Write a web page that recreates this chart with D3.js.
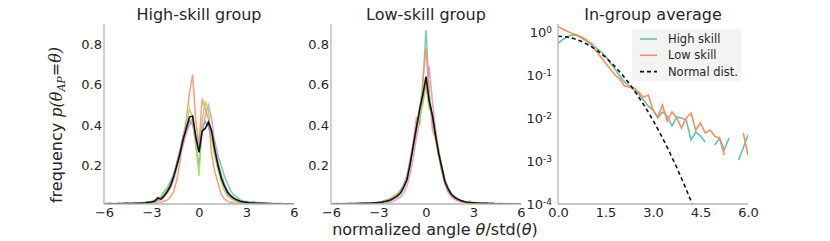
<!DOCTYPE html>
<html>
<head>
<meta charset="utf-8">
<script src="https://cdn.jsdelivr.net/npm/d3@7"></script>
<style>
  body { margin: 0; background: #fff; }
  text { font-family: "DejaVu Sans", sans-serif; fill: #262626; }
</style>
</head>
<body>
<svg id="chart" width="830" height="241"></svg>
<script>
// bin centres of the histograms (normalized angle)
const binCenters = [-6.0,-5.8,-5.6,-5.4,-5.2,-5.0,-4.8,-4.6,-4.4,-4.2,-4.0,-3.8,-3.6,-3.4,-3.2,
  -3.0,-2.8,-2.6,-2.4,-2.2,-2.0,-1.8,-1.6,-1.4,-1.2,-1.0,-0.8,-0.6,-0.4,-0.2,
  0.0,0.2,0.4,0.6,0.8,1.0,1.2,1.4,1.6,1.8,2.0,2.2,2.4,2.6,2.8,
  3.0,3.2,3.4,3.6,3.8,4.0,4.2,4.4,4.6,4.8,5.0,5.2,5.4,5.6,5.8,6.0];

// high-skill group, one series per player
const hiTeal = [0.012,0.010,0.014,0.011,0.010,0.013,0.012,0.015,0.011,0.014,0.013,0.016,0.014,0.018,0.020,
  0.024,0.030,0.036,0.046,0.075,0.090,0.125,0.150,0.215,0.275,0.320,0.370,0.420,0.430,0.300,
  0.200,0.380,0.420,0.400,0.360,0.320,0.250,0.200,0.150,0.110,0.075,0.055,0.045,0.030,0.025,
  0.022,0.018,0.016,0.020,0.014,0.013,0.015,0.012,0.012,0.013,0.011,0.012,0.010,0.011,0.010,0.010];
const hiOrange = [0.011,0.014,0.010,0.012,0.011,0.010,0.013,0.011,0.010,0.012,0.011,0.012,0.010,0.013,0.012,
  0.014,0.016,0.012,0.018,0.025,0.030,0.045,0.070,0.130,0.220,0.340,0.430,0.560,0.650,0.420,
  0.300,0.530,0.480,0.430,0.250,0.170,0.115,0.060,0.035,0.024,0.018,0.015,0.014,0.013,0.012,
  0.012,0.011,0.013,0.011,0.010,0.012,0.011,0.010,0.012,0.010,0.011,0.013,0.010,0.011,0.010,0.010];
const hiBlue = [0.010,0.012,0.011,0.010,0.013,0.011,0.012,0.010,0.014,0.012,0.013,0.012,0.015,0.014,0.017,
  0.020,0.025,0.030,0.040,0.060,0.080,0.110,0.160,0.210,0.280,0.350,0.400,0.420,0.400,0.330,
  0.300,0.400,0.410,0.390,0.340,0.280,0.220,0.160,0.110,0.075,0.055,0.040,0.032,0.025,0.022,
  0.019,0.017,0.022,0.015,0.014,0.016,0.013,0.012,0.013,0.011,0.012,0.010,0.011,0.010,0.011,0.010];
const hiPink = [0.011,0.010,0.012,0.011,0.010,0.012,0.011,0.010,0.011,0.013,0.012,0.011,0.013,0.012,0.014,
  0.016,0.018,0.024,0.030,0.045,0.065,0.090,0.130,0.190,0.250,0.300,0.360,0.400,0.420,0.350,
  0.300,0.360,0.450,0.500,0.430,0.300,0.200,0.130,0.080,0.050,0.038,0.028,0.022,0.018,0.016,
  0.015,0.013,0.012,0.014,0.012,0.011,0.012,0.010,0.011,0.010,0.012,0.010,0.011,0.010,0.010,0.010];
const hiGreen = [0.010,0.011,0.013,0.010,0.012,0.011,0.010,0.012,0.014,0.011,0.012,0.015,0.013,0.012,0.016,
  0.018,0.022,0.045,0.035,0.060,0.085,0.110,0.150,0.200,0.270,0.340,0.400,0.480,0.440,0.300,
  0.150,0.420,0.520,0.470,0.330,0.240,0.180,0.120,0.080,0.055,0.040,0.030,0.024,0.020,0.018,
  0.016,0.014,0.013,0.015,0.012,0.011,0.013,0.012,0.011,0.012,0.010,0.011,0.010,0.010,0.011,0.010];
const hiAvg = [0.011,0.010,0.012,0.010,0.011,0.012,0.011,0.013,0.012,0.012,0.013,0.014,0.015,0.016,0.018,
  0.020,0.024,0.040,0.034,0.050,0.072,0.100,0.145,0.200,0.260,0.330,0.385,0.440,0.445,0.340,
  0.265,0.370,0.385,0.415,0.370,0.275,0.200,0.140,0.100,0.068,0.050,0.038,0.030,0.024,0.020,
  0.018,0.016,0.015,0.014,0.013,0.013,0.012,0.012,0.011,0.011,0.011,0.010,0.010,0.011,0.010,0.010];

// low-skill group
const loTeal = [0.011,0.010,0.012,0.010,0.011,0.013,0.010,0.012,0.011,0.013,0.012,0.014,0.013,0.016,0.015,
  0.018,0.021,0.025,0.030,0.036,0.045,0.055,0.070,0.100,0.140,0.200,0.290,0.380,0.470,0.600,
  0.870,0.560,0.430,0.340,0.250,0.170,0.110,0.075,0.050,0.035,0.028,0.022,0.020,0.017,0.015,
  0.014,0.016,0.013,0.012,0.014,0.011,0.012,0.010,0.011,0.012,0.010,0.011,0.010,0.010,0.011,0.010];
const loOrange = [0.010,0.012,0.010,0.011,0.010,0.012,0.011,0.010,0.012,0.011,0.013,0.011,0.012,0.014,0.013,
  0.016,0.018,0.024,0.022,0.030,0.038,0.048,0.062,0.090,0.140,0.220,0.320,0.440,0.400,0.620,
  0.780,0.560,0.380,0.330,0.250,0.170,0.110,0.070,0.048,0.034,0.026,0.021,0.018,0.016,0.015,
  0.013,0.012,0.014,0.012,0.011,0.010,0.012,0.011,0.010,0.011,0.010,0.010,0.011,0.010,0.010,0.010];
const loBlue = [0.010,0.011,0.012,0.010,0.011,0.012,0.011,0.013,0.012,0.014,0.013,0.015,0.014,0.017,0.016,
  0.019,0.022,0.027,0.032,0.040,0.050,0.062,0.080,0.110,0.150,0.230,0.310,0.390,0.460,0.520,
  0.600,0.500,0.440,0.350,0.270,0.200,0.130,0.090,0.062,0.046,0.036,0.029,0.024,0.020,0.018,
  0.016,0.015,0.014,0.013,0.013,0.012,0.012,0.011,0.011,0.010,0.011,0.010,0.010,0.010,0.011,0.010];
const loPink = [0.010,0.011,0.010,0.012,0.011,0.010,0.011,0.012,0.010,0.011,0.012,0.011,0.013,0.012,0.011,
  0.013,0.015,0.014,0.017,0.020,0.026,0.035,0.045,0.065,0.100,0.160,0.240,0.340,0.420,0.530,
  0.600,0.690,0.520,0.380,0.280,0.180,0.110,0.070,0.050,0.036,0.028,0.022,0.019,0.017,0.015,
  0.014,0.016,0.013,0.012,0.013,0.011,0.012,0.010,0.011,0.012,0.010,0.011,0.010,0.010,0.010,0.010];
const loGreen = [0.011,0.010,0.012,0.011,0.013,0.010,0.012,0.011,0.014,0.012,0.011,0.015,0.013,0.012,0.016,
  0.020,0.018,0.026,0.030,0.038,0.048,0.060,0.076,0.100,0.150,0.220,0.300,0.380,0.440,0.500,
  0.600,0.480,0.460,0.370,0.270,0.190,0.125,0.085,0.060,0.044,0.034,0.028,0.023,0.020,0.026,
  0.016,0.018,0.014,0.013,0.015,0.012,0.013,0.011,0.012,0.011,0.012,0.010,0.011,0.010,0.010,0.010];
const loAvg = [0.010,0.010,0.011,0.010,0.011,0.011,0.012,0.011,0.012,0.012,0.013,0.013,0.014,0.015,0.016,
  0.017,0.019,0.022,0.026,0.031,0.040,0.050,0.065,0.095,0.130,0.210,0.300,0.390,0.480,0.550,
  0.640,0.520,0.450,0.350,0.260,0.190,0.120,0.085,0.058,0.044,0.034,0.027,0.022,0.019,0.017,
  0.016,0.015,0.014,0.013,0.013,0.012,0.012,0.011,0.011,0.011,0.010,0.011,0.010,0.010,0.010,0.010];

// in-group average, |angle| on a log scale (null = empty bin)
const absBins = [0.0,0.15,0.3,0.45,0.6,0.75,0.9,1.05,1.2,1.35,1.5,1.65,1.8,1.95,2.1,2.25,2.4,2.55,2.7,2.85,
  3.0,3.15,3.3,3.45,3.6,3.75,3.9,4.05,4.2,4.35,4.5,4.65,4.8,4.95,5.1,5.25,5.4,5.55,5.7,5.85,6.0];
const avgHigh = [0.546,0.670,0.786,0.851,0.830,0.725,0.618,0.541,0.425,0.352,0.277,0.190,0.138,0.0948,0.0688,
  0.0555,0.0448,0.0361,0.0262,0.0190,0.0153,0.0100,0.0138,0.0111,0.00652,0.01055,0.0100,0.00898,0.00308,0.00472,
  0.00381,0.00277,null,0.00236,0.00343,0.00180,0.00343,null,0.00105,0.00200,0.00403];
const avgLow = [1.34,1.174,1.027,0.923,0.851,0.765,0.652,0.499,0.362,0.262,0.190,0.138,0.100,0.0807,0.0555,
  0.0526,0.0499,0.0402,0.0308,0.0343,0.0153,0.01055,0.0201,0.00851,0.0138,0.0100,0.00585,0.0100,0.0131,0.00526,
  0.00765,0.00448,0.00526,0.00381,0.00343,0.00138,null,null,null,0.00448,0.00138];
const normX = [0,0.25,0.5,0.75,1.0,1.25,1.5,1.75,2.0,2.25,2.5,2.75,3.0,3.25,3.5,3.75,4.0,4.25,4.5];
const normY = [0.7979,0.7734,0.7041,0.6023,0.4839,0.3653,0.2591,0.1726,0.1080,0.0635,0.03506,0.01819,
  0.008864,0.004058,0.001745,0.000705,0.0002677,0.0000954,0.0000320];

const setColors = ["#66c2a5", "#fc8d62", "#8da0cb", "#e78ac3", "#a6d854"];
const linTicks = [0.2, 0.4, 0.6, 0.8];
const xTicks = [-6, -3, 0, 3, 6];
const absTicks = [0, 1.5, 3, 4.5, 6];
const logTicks = [1e-4, 1e-3, 1e-2, 1e-1, 1];

const svg = d3.select("#chart");
const plotTop = 24, plotBottom = 204, spineColor = "#b5b5b5";
const tickFont = "13px";

function spines(g, x0, x1) {
  g.append("line").attr("x1", x0).attr("x2", x0).attr("y1", plotTop).attr("y2", plotBottom)
    .attr("stroke", spineColor).attr("stroke-width", 1.3);
  g.append("line").attr("x1", x0).attr("x2", x1).attr("y1", plotBottom).attr("y2", plotBottom)
    .attr("stroke", spineColor).attr("stroke-width", 1.3);
}

function clip(id, x0, x1) {
  svg.append("clipPath").attr("id", id)
    .append("rect").attr("x", x0).attr("y", plotTop).attr("width", x1 - x0).attr("height", plotBottom - plotTop);
}

function histPanel(x0, x1, title, series, avg, id) {
  const x = d3.scaleLinear().domain([-6, 6]).range([x0, x1]);
  const y = d3.scaleLinear().domain([0.01, 0.9]).range([plotBottom, plotTop]);
  const g = svg.append("g");
  clip(id, x0, x1);

  const line = d3.line().x((d, i) => x(binCenters[i])).y(d => y(d));
  const lines = g.append("g").attr("clip-path", `url(#${id})`);
  series.forEach((s, k) => {
    lines.append("path").datum(s).attr("d", line)
      .attr("fill", "none").attr("stroke", setColors[k])
      .attr("stroke-width", 1.5).attr("stroke-opacity", 0.85);
  });
  lines.append("path").datum(avg).attr("d", line)
    .attr("fill", "none").attr("stroke", "#111").attr("stroke-width", 1.6);

  spines(g, x0, x1);

  g.append("g").attr("transform", `translate(0,${plotBottom})`)
    .call(d3.axisBottom(x).tickValues(xTicks).tickSize(0).tickPadding(4).tickFormat(d3.format("d")))
    .call(a => a.select(".domain").remove())
    .selectAll("text").style("font-size", tickFont).attr("font-family", null);

  g.append("g").attr("transform", `translate(${x0},0)`)
    .call(d3.axisLeft(y).tickValues(linTicks).tickSize(0).tickPadding(2).tickFormat(d3.format(".1f")))
    .call(a => a.select(".domain").remove())
    .selectAll("text").style("font-size", tickFont).attr("font-family", null);

  g.append("text").attr("x", (x0 + x1) / 2).attr("y", 20)
    .attr("text-anchor", "middle").style("font-size", "16px").text(title);
}

histPanel(104, 294, "High-skill group", [hiTeal, hiOrange, hiBlue, hiPink, hiGreen], hiAvg, "c1");
histPanel(331, 521, "Low-skill group", [loTeal, loOrange, loBlue, loPink, loGreen], loAvg, "c2");

// third panel: log scale
{
  const x0 = 558, x1 = 748;
  const x = d3.scaleLinear().domain([0, 6]).range([x0, x1]);
  const y = d3.scaleLog().domain([1e-4, 1.535]).range([plotBottom, plotTop]);
  const g = svg.append("g");
  clip("c3", x0, x1);
  const lines = g.append("g").attr("clip-path", "url(#c3)");

  const line = d3.line().defined(d => d != null).x((d, i) => x(absBins[i])).y(d => y(d));
  lines.append("path").datum(avgHigh).attr("d", line)
    .attr("fill", "none").attr("stroke", setColors[0]).attr("stroke-width", 1.6);
  lines.append("path").datum(avgLow).attr("d", line)
    .attr("fill", "none").attr("stroke", setColors[1]).attr("stroke-width", 1.6);
  const nline = d3.line().x((d, i) => x(normX[i])).y(d => y(d));
  lines.append("path").datum(normY).attr("d", nline)
    .attr("fill", "none").attr("stroke", "#111").attr("stroke-width", 1.6)
    .attr("stroke-dasharray", "4,3");

  spines(g, x0, x1);

  g.append("g").attr("transform", `translate(0,${plotBottom})`)
    .call(d3.axisBottom(x).tickValues(absTicks).tickSize(0).tickPadding(4).tickFormat(d3.format(".1f")))
    .call(a => a.select(".domain").remove())
    .selectAll("text").style("font-size", tickFont).attr("font-family", null);

  const ylab = g.selectAll("text.logtick").data(logTicks).enter()
    .append("text").attr("class", "logtick")
    .attr("x", x0 - 6).attr("y", d => y(d)).attr("dy", "0.4em")
    .attr("text-anchor", "end").style("font-size", tickFont);
  ylab.append("tspan").text("10");
  ylab.append("tspan").attr("dy", "-0.45em").style("font-size", "9px")
    .text(d => String(Math.round(Math.log10(d))));

  g.append("text").attr("x", (x0 + x1) / 2).attr("y", 20)
    .attr("text-anchor", "middle").style("font-size", "16px").text("In-group average");

  // legend
  const leg = g.append("g").attr("transform", "translate(632,29)");
  leg.append("rect").attr("width", 109).attr("height", 52).attr("fill", "#f3f3f3");
  const items = [
    { label: "High skill", color: setColors[0], dash: null },
    { label: "Low skill", color: setColors[1], dash: null },
    { label: "Normal dist.", color: "#111", dash: "4,3" }
  ];
  items.forEach((it, i) => {
    const yy = 10 + i * 16.3;
    leg.append("line").attr("x1", 8).attr("x2", 25).attr("y1", yy).attr("y2", yy)
      .attr("stroke", it.color).attr("stroke-width", 1.6).attr("stroke-dasharray", it.dash);
    leg.append("text").attr("x", 36).attr("y", yy).attr("dy", "0.36em")
      .style("font-size", "11.5px").text(it.label);
  });
}

// shared axis labels
const yl = svg.append("text").attr("transform", "translate(62,125) rotate(-90)")
  .attr("text-anchor", "middle").style("font-size", "16px");
yl.append("tspan").text("frequency ");
yl.append("tspan").attr("font-family", "DejaVu Serif").attr("font-style", "italic").text("p(θ");
yl.append("tspan").attr("font-family", "DejaVu Serif").attr("font-style", "italic")
  .attr("dy", "0.3em").style("font-size", "11px").text("AP");
yl.append("tspan").attr("font-family", "DejaVu Serif").attr("font-style", "italic")
  .attr("dy", "-0.3em").text("=θ)");

const xl = svg.append("text").attr("x", 435).attr("y", 235)
  .attr("text-anchor", "middle").style("font-size", "16px");
xl.append("tspan").text("normalized angle ");
xl.append("tspan").attr("font-style", "italic").text("θ");
xl.append("tspan").text("/std(");
xl.append("tspan").attr("font-style", "italic").text("θ");
xl.append("tspan").text(")");
</script>
</body>
</html>
